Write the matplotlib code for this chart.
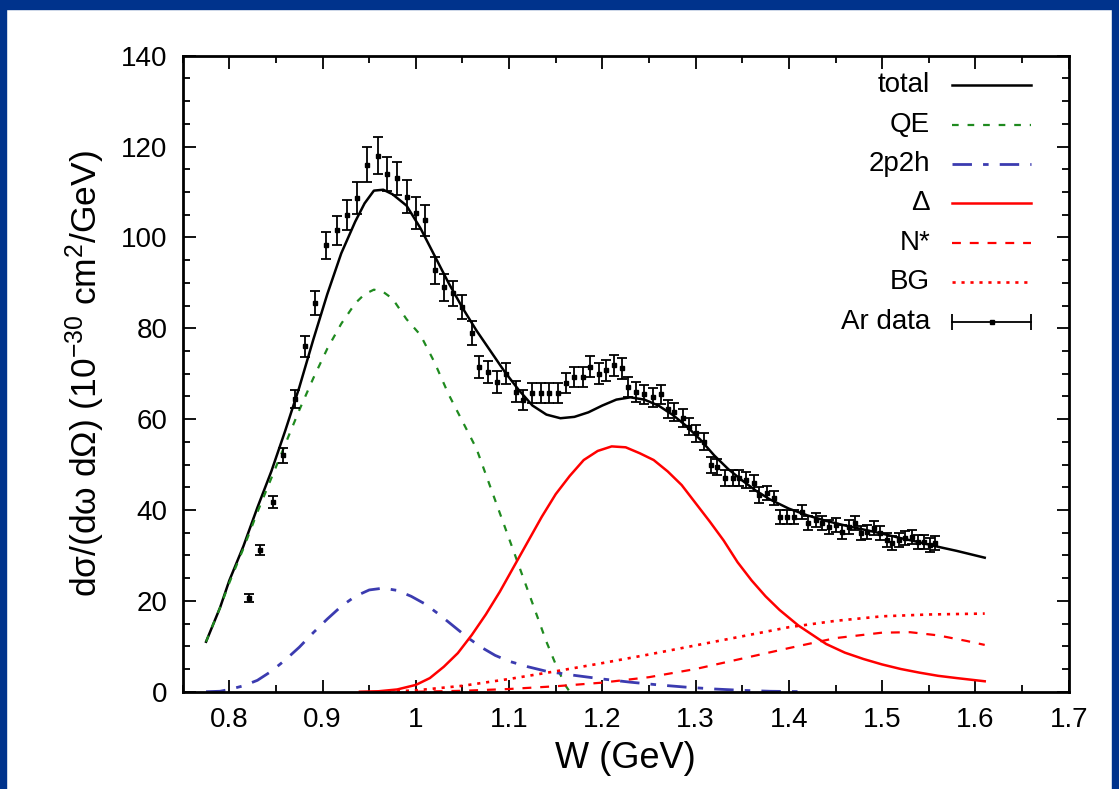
# W spectrum on Ar: model components vs data

import numpy as np
import matplotlib.pyplot as plt
from matplotlib.patches import Rectangle
from matplotlib.ticker import MultipleLocator

plt.rcParams['font.family'] = ['Liberation Sans', 'DejaVu Sans']
plt.rcParams['mathtext.fontset'] = 'custom'
plt.rcParams['mathtext.rm'] = 'Liberation Sans'
plt.rcParams['mathtext.it'] = 'Liberation Sans:italic'

# --- model curves ---
w_total = [0.775, 0.79, 0.80, 0.815, 0.83, 0.845, 0.86, 0.875, 0.89, 0.905, 0.92, 0.935,
           0.945, 0.955, 0.965, 0.975, 0.99, 1.005, 1.02, 1.035, 1.05, 1.065, 1.08, 1.095,
           1.11, 1.125, 1.14, 1.155, 1.17, 1.185, 1.2, 1.215, 1.23, 1.245, 1.26, 1.275,
           1.29, 1.305, 1.32, 1.335, 1.35, 1.365, 1.38, 1.4, 1.42, 1.44, 1.46, 1.48, 1.5,
           1.52, 1.54, 1.56, 1.58, 1.6, 1.61]
total = [11, 18.5, 24.5, 32, 40.5, 48.5, 57.5, 67, 77.5, 87.5, 96.5, 103.5,
         107.5, 110.3, 110.5, 109.5, 107, 102, 96, 90, 84.5, 79.5, 75, 70.5,
         66.5, 63, 61, 60.2, 60.5, 61.5, 63, 64.3, 64.8, 64.3, 63, 61,
         58.5, 55.5, 52, 49, 46.5, 44.2, 42.3, 40.3, 38.8, 37.6, 36.6, 35.7, 34.8,
         33.8, 32.9, 31.9, 31, 30, 29.5]

w_qe = [0.775, 0.79, 0.80, 0.815, 0.83, 0.845, 0.86, 0.875, 0.89, 0.905, 0.92, 0.935,
        0.945, 0.955, 0.965, 0.975, 0.99, 1.005, 1.02, 1.035, 1.05, 1.065, 1.08, 1.095,
        1.11, 1.125, 1.14, 1.15, 1.16, 1.165]
qe = [11, 18.5, 24, 31.5, 39.5, 47, 54.5, 62, 69, 75.5, 81, 85.5,
      87.5, 88.5, 88, 86.5, 82, 78.5, 72.5, 65.5, 59.5, 53.5, 45, 36.5,
      28, 19.5, 11, 6, 1.5, 0]

w_2p2h = [0.775, 0.79, 0.8, 0.815, 0.83, 0.845, 0.86, 0.875, 0.89, 0.905, 0.92, 0.935,
          0.95, 0.965, 0.98, 0.995, 1.01, 1.025, 1.04, 1.055, 1.07, 1.085, 1.1, 1.12,
          1.14, 1.17, 1.2, 1.23, 1.26, 1.29, 1.32, 1.35, 1.38, 1.42]
mec = [0, 0.1, 0.5, 1.3, 2.5, 4.5, 7, 9.8, 13, 16, 18.8, 21,
       22.4, 22.8, 22.3, 21, 19.3, 17, 14.5, 12, 9.8, 8, 6.7, 5.5,
       4.5, 3.6, 2.8, 2.1, 1.5, 1.0, 0.6, 0.3, 0.1, 0]

w_delta = [0.94, 0.96, 0.98, 1.0, 1.015, 1.03, 1.045, 1.06, 1.075, 1.09, 1.105, 1.12,
           1.135, 1.15, 1.165, 1.18, 1.195, 1.21, 1.225, 1.24, 1.255, 1.27, 1.285, 1.3,
           1.315, 1.33, 1.345, 1.36, 1.375, 1.39, 1.41, 1.44, 1.46, 1.48, 1.5, 1.52,
           1.54, 1.56, 1.58, 1.61]
delta = [0, 0.1, 0.5, 1.5, 3, 5.5, 8.5, 12.5, 17, 22, 27.5, 33,
         38.5, 43.5, 47.5, 51, 53, 54, 53.8, 52.5, 51, 48.5, 45.5, 41.5,
         37.5, 33.3, 28.5, 24.5, 21, 18, 14.6, 10.5, 8.6, 7.2, 6, 5,
         4.2, 3.5, 3, 2.3]

w_nstar = [1.0, 1.05, 1.1, 1.15, 1.2, 1.25, 1.3, 1.35, 1.4, 1.45, 1.5, 1.53, 1.56, 1.59, 1.61]
nstar = [0, 0.2, 0.6, 1.2, 2, 3.2, 5, 7.3, 9.6, 11.8, 13, 13.1, 12.4, 11.2, 10.3]

w_bg = [0.97, 1.0, 1.05, 1.1, 1.15, 1.2, 1.25, 1.3, 1.35, 1.4, 1.45, 1.5, 1.55, 1.61]
bg = [0, 0.3, 1.3, 2.8, 4.5, 6.3, 8.2, 10.2, 12.2, 14.2, 15.6, 16.6, 17.0, 17.2]

# --- Ar data ---
w_data = [0.821, 0.833, 0.847, 0.858, 0.870, 0.881, 0.892, 0.904, 0.915, 0.926, 0.937, 0.948,
          0.959, 0.969, 0.980, 0.990, 1.000, 1.010, 1.020, 1.030, 1.040, 1.050, 1.060,
          1.068, 1.077, 1.087, 1.097, 1.107, 1.115, 1.125, 1.134, 1.143, 1.152, 1.161, 1.170,
          1.179, 1.187, 1.196, 1.204, 1.213, 1.221,
          1.228, 1.236, 1.245, 1.254, 1.263, 1.270, 1.277, 1.286, 1.293, 1.300,
          1.309, 1.316, 1.323, 1.332, 1.340, 1.347, 1.354, 1.363, 1.368, 1.377, 1.384, 1.391, 1.398,
          1.406, 1.414, 1.421, 1.429, 1.436, 1.443, 1.450, 1.457, 1.464, 1.471, 1.477, 1.484,
          1.491, 1.498,
          1.505, 1.511, 1.518, 1.525, 1.532, 1.538, 1.545, 1.551, 1.557]
y_data = [20.6, 31.2, 41.8, 52, 64.5, 76, 85.5, 98.3, 101.6, 105, 108.7, 116,
          118, 114, 113, 109, 105.3, 103.8, 92.8, 89, 87.7, 84.7, 79,
          71.5, 70.4, 68.2, 70, 66, 64.2, 65.7, 65.7, 65.7, 65.7, 67.9, 69.3,
          69.3, 71.5, 70, 70.8, 71.9, 71.2,
          67.1, 66, 65.5, 64.8, 65.5, 62.2, 61.6, 60.2, 58.3, 56.9,
          55, 49.9, 49.5, 47, 47, 47, 46.6, 45.9, 43.3, 43.7, 42.6, 38.5, 38.5,
          38.5, 39.6, 37.1, 37.8, 37.1, 36.3, 36.7, 35.2, 36.3, 37.1, 34.9, 35.2,
          36, 34.9,
          33.4, 32.7, 33.4, 33.8, 34.1, 33, 33, 32.3, 32.7]
err_data = [0.8, 1.0, 1.3, 1.6, 2.0, 2.3, 2.6, 3.0, 3.2, 3.3, 3.5, 3.8,
            4.0, 3.8, 3.7, 3.6, 3.5, 3.4, 3.0, 2.9, 2.8, 2.7, 2.6,
            2.5, 2.4, 2.4, 2.3, 2.3, 2.2, 2.2, 2.2, 2.2, 2.2, 2.2, 2.2,
            2.2, 2.3, 2.3, 2.3, 2.3, 2.3,
            2.2, 2.2, 2.1, 2.1, 2.1, 2.0, 2.0, 2.0, 1.9, 1.9,
            1.9, 1.8, 1.8, 1.8, 1.8, 1.7, 1.7, 1.7, 1.7, 1.6, 1.6, 1.6, 1.6,
            1.6, 1.6, 1.5, 1.5, 1.5, 1.5, 1.5, 1.5, 1.5, 1.5, 1.5, 1.5,
            1.5, 1.5,
            1.5, 1.5, 1.5, 1.5, 1.5, 1.5, 1.5, 1.5, 1.5]

xticks = [0.8, 0.9, 1.0, 1.1, 1.2, 1.3, 1.4, 1.5, 1.6, 1.7]
xticklabels = ['0.8', '0.9', '1', '1.1', '1.2', '1.3', '1.4', '1.5', '1.6', '1.7']
yticks = [0, 20, 40, 60, 80, 100, 120, 140]

GREEN = '#1f8a1f'
BLUE = '#3b3bb0'
RED = '#ff0000'

fig = plt.figure(figsize=(11.19, 7.89), dpi=100)
ax = fig.add_axes([0.1633, 0.1233, 0.7917, 0.8061])

# blue slide frame
for rect in [(0, 0.988, 1, 0.012), (0, 0, 0.0055, 1), (0.9935, 0, 0.0065, 1)]:
    fig.patches.append(Rectangle(rect[:2], rect[2], rect[3], transform=fig.transFigure,
                                 color='#00338c', zorder=10))

# curves
ax.plot(w_total, total, color='black', lw=1.8)
ax.plot(w_qe, qe, color=GREEN, lw=1.6, dashes=(3, 4))
ax.plot(w_2p2h, mec, color=BLUE, lw=2.0, dashes=(7, 4, 2, 4))
ax.plot(w_delta, delta, color=RED, lw=1.8)
ax.plot(w_nstar, nstar, color=RED, lw=1.6, dashes=(4, 4))
ax.plot(w_bg, bg, color=RED, lw=1.9, dashes=(1.2, 2.2))

# data
ax.errorbar(w_data, y_data, yerr=err_data, fmt='s', color='black', ms=3,
            elinewidth=1.3, capsize=3.5, capthick=1.3)

ax.set_xlim(0.75, 1.7)
ax.set_ylim(0, 140)
ax.set_xticks(xticks)
ax.set_xticklabels(xticklabels)
ax.set_yticks(yticks)
ax.xaxis.set_minor_locator(MultipleLocator(0.05))
ax.yaxis.set_minor_locator(MultipleLocator(5))
ax.tick_params(which='both', direction='in', top=True, right=True, width=1.3, labelsize=20)
ax.tick_params(which='major', length=9, pad=11)
ax.tick_params(which='minor', length=5)
for s in ax.spines.values():
    s.set_linewidth(2)

ax.set_xlabel('W (GeV)', fontsize=26, labelpad=6)
ax.set_ylabel('dσ/(dω dΩ) (10$^{-30}$ cm$^{2}$/GeV)', fontsize=25.5, labelpad=10)

# gnuplot-style key: label right aligned, sample on the right
key_y = [0.954, 0.891, 0.829, 0.768, 0.705, 0.644, 0.581]
key_labels = ['total', 'QE', '2p2h', 'Δ', 'N*', 'BG', 'Ar data']
key_styles = [dict(color='black', lw=1.8),
              dict(color=GREEN, lw=1.6, dashes=(3, 4)),
              dict(color=BLUE, lw=2.0, dashes=(7, 4, 2, 4)),
              dict(color=RED, lw=1.8),
              dict(color=RED, lw=1.6, dashes=(4, 4)),
              dict(color=RED, lw=1.9, dashes=(1.2, 2.2)),
              dict(color='black', lw=1.3)]
x0, x1 = 0.868, 0.958
for yk, lab, st in zip(key_y, key_labels, key_styles):
    ax.text(0.8436, yk, lab, transform=ax.transAxes, ha='right', va='center', fontsize=20)
    ax.plot([x0, x1], [yk, yk], transform=ax.transAxes, **st)
# caps + dot for the data sample
ax.plot([x0, x1], [key_y[-1]] * 2, transform=ax.transAxes, ls='none', marker='|',
        ms=12, color='black', mew=1.3)
ax.plot([(x0 + x1) / 2], [key_y[-1]], transform=ax.transAxes, marker='s', ms=3, color='black')

fig.savefig('out.png', dpi=100)
